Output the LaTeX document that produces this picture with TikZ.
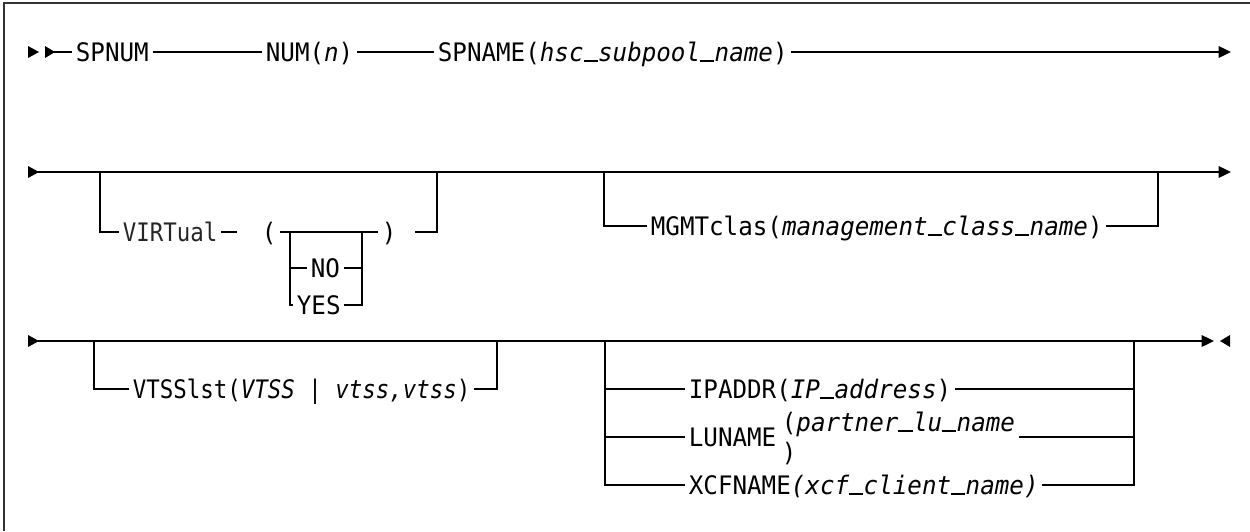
\documentclass[tikz,border=0pt]{standalone}
\usepackage{fontspec}
\setmonofont[FakeStretch=0.95]{DejaVu Sans Mono}
\newfontfamily\railnarrow[FakeStretch=0.88]{DejaVu Sans Mono}
\newcommand{\usc}{\rlap{\rule[-0.02em]{0.56em}{0.07em}}\phantom{x}}
\usepackage{tikz}
\usetikzlibrary{arrows.meta, positioning, calc}

\begin{document}
\begin{tikzpicture}[
    x=0.02cm, y=-0.02cm,
    rail/.style={line width=1.1pt},
    kw/.style={anchor=west, inner xsep=2pt, inner ysep=0pt, text height=10.6pt, text depth=0pt, font=\ttfamily\fontsize{14.5}{17}\selectfont},
    kwnarrow/.style={kw, font=\railnarrow\fontsize{14.5}{17}\selectfont},
    endarrow/.style={rail, -{Triangle[length=7pt, width=6.5pt]}},
    tip/.style={fill=black}
]
\useasboundingbox (0,0) rectangle (1250,531);
\draw[line width=1.2pt, black!80] (4,531) -- (4,3) -- (1250,3);

% row 1
\fill[tip] (28,46) -- (39,52) -- (28,58) -- cycle;
\fill[tip] (45,46) -- (55,52) -- (45,58) -- cycle;
\coordinate (s1) at (53,52);
\node[kw] (spnum) at (72,52) {SPNUM};
\node[kw] (num) at (262,52) {NUM(\textit{n})};
\node[kw] (spname) at (434,52) {SPNAME(\textit{hsc\usc subpool\usc name})};
\coordinate (e1) at (1231,52);
\draw[rail] (s1) -- (spnum);
\draw[rail] (spnum) -- (num);
\draw[rail] (num) -- (spname);
\draw[endarrow] (spname) -- (e1);

% row 2
\fill[tip] (28,166) -- (39,172) -- (28,178) -- cycle;
\coordinate (s2) at (36,172);
\coordinate (e2) at (1231,172);
\draw[endarrow] (s2) -- (e2);

% VIRTual (NO|YES)
\coordinate (v0) at (100,172);
\coordinate (v1) at (437,172);
\node[kwnarrow, text=black!85] (virt) at (119,232) {VIRTual};
\coordinate (vd) at (237,232);
\node[kw] (lpar) at (258,232) {(};
\node[kw] (rpar) at (378,232) {)};
\coordinate (vr) at (415,232);
\draw[rail] (v0) |- (virt);
\draw[rail] (virt) -- (vd);
\draw[rail] (lpar) -- (rpar);
\draw[rail] (vr) -| (v1);
\coordinate (ny0) at (290,232);
\coordinate (ny1) at (362,232);
\node[kw] (no) at (307,268) {NO};
\node[kw] (yes) at (293,305) {YES};
\draw[rail] (ny0) |- (no);
\draw[rail] (no) -| (ny1);
\draw[rail] (ny0) |- (yes);
\draw[rail] (yes) -| (ny1);

% MGMTclas
\coordinate (m0) at (604,172);
\coordinate (m1) at (1158,172);
\node[kw] (mgmt) at (647,226) {MGMTclas(\textit{management\usc class\usc name})};
\draw[rail] (m0) |- (mgmt);
\draw[rail] (mgmt) -| (m1);

% row 3
\fill[tip] (28,335) -- (39,341) -- (28,347) -- cycle;
\coordinate (s3) at (36,341);
\coordinate (e3) at (1214,341);
\draw[endarrow] (s3) -- (e3);
\fill[tip] (1230,335) -- (1220,341) -- (1230,347) -- cycle;

% VTSSlst
\coordinate (t0) at (94,341);
\coordinate (t1) at (497,341);
\node[kwnarrow] (vtss) at (129,389) {VTSSlst(\textit{VTSS} | \textit{vtss,vtss})};
\draw[rail] (t0) |- (vtss);
\draw[rail] (vtss) -| (t1);

% IPADDR / LUNAME / XCFNAME
\coordinate (g0) at (605,341);
\coordinate (g1) at (1134,341);
\node[kw] (ipaddr) at (685,389) {IPADDR(\textit{IP\usc address})};
\node[kw] (luname) at (685,437) {LUNAME};
\node[kw] (lupar) at (778,422) {(\textit{partner\usc lu\usc name}};
\node[kw] (lurpar) at (778,452) {)};
\node[kw] (xcf) at (685,485) {XCFNAME\textit{(xcf\usc client\usc name)}};
\draw[rail] (g0) |- (xcf);
\draw[rail] (g0 |- ipaddr) -- (ipaddr);
\draw[rail] (g0 |- luname) -- (luname);
\draw[rail] (ipaddr) -| (g1);
\draw[rail] (lupar.east |- luname) -- (g1 |- luname);
\draw[rail] (xcf) -| (g1);

\end{tikzpicture}
\end{document}
